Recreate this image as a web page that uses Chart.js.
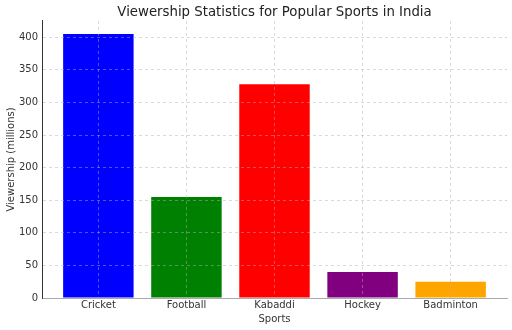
<!DOCTYPE html>
<html>
<head>
<meta charset="utf-8">
<script src="https://cdn.jsdelivr.net/npm/chart.js@4"></script>
<style>
  html, body { margin: 0; padding: 0; background: #fff; }
  #wrap { width: 512px; height: 330px; }
</style>
</head>
<body>
<div id="wrap"><canvas id="sportsChart" width="512" height="330"></canvas></div>
<script>
// Viewership by sport, in millions
const sports = ['Cricket', 'Football', 'Kabaddi', 'Hockey', 'Badminton'];
const viewership = [405, 155, 328, 40, 25];
const barColors = ['#0000ff', '#008000', '#ff0000', '#800080', '#ffa500'];
const yTicks = [0, 50, 100, 150, 200, 250, 300, 350, 400];

const FONT = 'DejaVu Sans';

// dashed grid, drawn on top of the bars
const grid = () => ({
    color: 'rgba(176, 176, 176, 0.6)',
    lineWidth: 0.8,
    drawTicks: false,
    offset: false,
    z: 1
});

// centre the title over the plot area instead of the whole canvas
const titleOverPlot = {
    id: 'titleOverPlot',
    afterLayout(chart) {
        if (!chart.titleBlock) return;
        chart.titleBlock.left = chart.chartArea.left;
        chart.titleBlock.right = chart.chartArea.right;
    }
};

new Chart(document.getElementById('sportsChart'), {
    type: 'bar',
    data: {
        datasets: [{
            data: viewership.map((v, i) => ({ x: i, y: v })),
            backgroundColor: barColors,
            borderWidth: 0,
            categoryPercentage: 1,
            barPercentage: 0.8
        }]
    },
    options: {
        responsive: false,
        animation: false,
        layout: { padding: { left: 5, right: 5, top: 0, bottom: 0 } },
        plugins: {
            legend: { display: false },
            tooltip: { enabled: false },
            title: {
                display: true,
                text: 'Viewership Statistics for Popular Sports in India',
                color: '#222',
                font: { family: FONT, size: 13.3, weight: 'normal' },
                padding: { top: 5, bottom: 0 }
            }
        },
        scales: {
            x: {
                type: 'linear',
                offset: false,
                min: -0.64,
                max: 4.64,
                afterBuildTicks: s => { s.ticks = sports.map((_, i) => ({ value: i })); },
                afterFit: s => { s.height = 32; },
                ticks: {
                    callback: v => sports[v],
                    color: '#333',
                    padding: 1,
                    font: { family: FONT, size: 10 }
                },
                grid: grid(),
                border: { color: '#aaa', width: 1, dash: [3, 3], z: 2 },
                title: {
                    display: true,
                    text: 'Sports',
                    color: '#333',
                    font: { family: FONT, size: 10 },
                    padding: { top: 0, bottom: 5 }
                }
            },
            y: {
                min: 0,
                max: 425,
                afterBuildTicks: s => { s.ticks = yTicks.map(v => ({ value: v })); },
                afterFit: s => { s.width = 37; },
                ticks: {
                    color: '#333',
                    padding: 4,
                    font: { family: FONT, size: 10 }
                },
                grid: grid(),
                border: { color: '#333', width: 1, dash: [3, 3], z: 2 },
                title: {
                    display: true,
                    text: 'Viewership (millions)',
                    color: '#333',
                    font: { family: FONT, size: 10 },
                    padding: { top: 0, bottom: 2 }
                }
            }
        }
    },
    plugins: [titleOverPlot]
});
</script>
</body>
</html>
